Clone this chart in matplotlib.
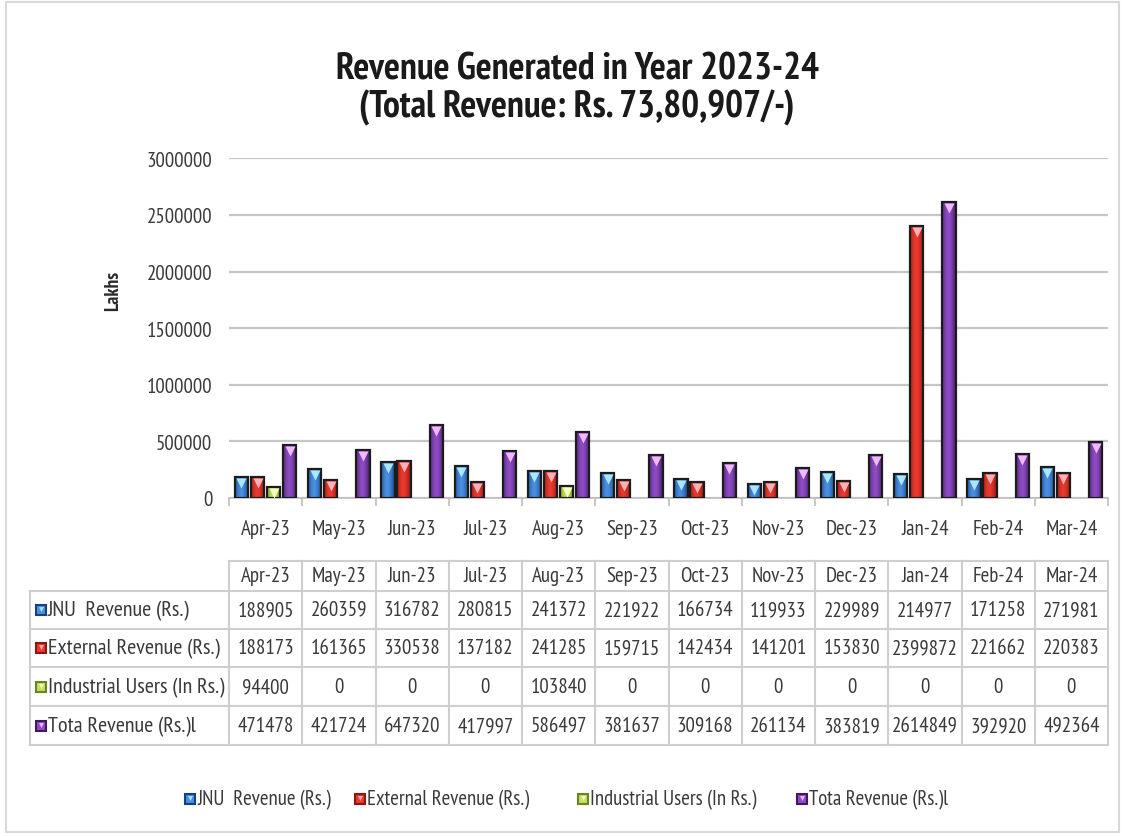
import numpy as np
import matplotlib
matplotlib.use("Agg")
import matplotlib.pyplot as plt
from matplotlib.patches import Rectangle
from matplotlib.colors import LinearSegmentedColormap
import matplotlib.transforms as mtransforms

plt.rcParams['font.family'] = ['PT Sans Narrow', 'DejaVu Sans']

# ---- data ----
months = ["Apr-23", "May-23", "Jun-23", "Jul-23", "Aug-23", "Sep-23",
          "Oct-23", "Nov-23", "Dec-23", "Jan-24", "Feb-24", "Mar-24"]
series_names = ["JNU  Revenue (Rs.)", "External Revenue (Rs.)",
                "Industrial Users (In Rs.)", "Tota Revenue (Rs.)l"]
jnu_revenue = [188905, 260359, 316782, 280815, 241372, 221922,
               166734, 119933, 229989, 214977, 171258, 271981]
external_revenue = [188173, 161365, 330538, 137182, 241285, 159715,
                    142434, 141201, 153830, 2399872, 221662, 220383]
industrial_users = [94400, 0, 0, 0, 103840, 0, 0, 0, 0, 0, 0, 0]
total_revenue = [471478, 421724, 647320, 417997, 586497, 381637,
                 309168, 261134, 383819, 2614849, 392920, 492364]
yticks = [0, 500000, 1000000, 1500000, 2000000, 2500000, 3000000]

series = [jnu_revenue, external_revenue, industrial_users, total_revenue]
# (dark edge, light centre, marker tint)
palette = [("#17407f", "#4a90e2", "#a8e8ff"),
           ("#8a1612", "#ea3a2e", "#ffb0b8"),
           ("#6a8424", "#c4e060", "#f4ffc0"),
           ("#42195f", "#8e4cc6", "#f0b8ff")]

W, H = 1124, 837
fig = plt.figure(figsize=(W / 100, H / 100), dpi=100)
fig.patch.set_facecolor("white")

x_left, x_right = 229, 1108
y_zero, y_top = 499, 159.3
ax = fig.add_axes([x_left / W, 1 - y_zero / H,
                   (x_right - x_left) / W, (y_zero - y_top) / H])
ax.set_xlim(-0.5, len(months) - 0.5)
ax.set_ylim(0, 3000000)

text_col = "#3a3a3a"
grid_col = "#c6c6c6"
fs = 15

ax.set_yticks(yticks)
ax.set_yticklabels([str(v) for v in yticks], fontsize=fs, color=text_col)
ax.yaxis.grid(True, color=grid_col, linewidth=1.6)
ax.set_axisbelow(True)
ax.tick_params(axis="y", length=0, pad=12)
for s in ["top", "right", "left"]:
    ax.spines[s].set_visible(False)
ax.spines["bottom"].set_color("#bdbdbd")
ax.spines["bottom"].set_linewidth(1.2)

xpos = np.arange(len(months))
ax.set_xticks(xpos)
ax.set_xticklabels(months, fontsize=fs, color=text_col)
ax.tick_params(axis="x", which="major", length=0, pad=15)
ax.set_xticks(np.arange(len(months) + 1) - 0.5, minor=True)
ax.tick_params(axis="x", which="minor", length=6, color="#bdbdbd", width=1.2)

ax.set_ylabel("Lakhs", fontsize=14, fontweight="bold", color="#2a2a2a", labelpad=0)
ax.yaxis.set_label_coords(-0.122, 0.612)

# ---- shaded bars ----
bar_w = 0.18
step = 0.22
offsets = (np.arange(4) - 1.5) * step
grad = np.linspace(0, 1, 64)
shade = np.abs(grad - 0.45) / 0.55
shade = (1 - shade ** 1.6).reshape(1, -1)

marker_tf = mtransforms.offset_copy(ax.transData, fig=fig, x=0, y=-6, units="dots")
for k, vals in enumerate(series):
    dark, light, tint = palette[k]
    cmap = LinearSegmentedColormap.from_list(f"c{k}", [dark, light])
    for i, v in enumerate(vals):
        if v <= 0:
            continue
        x0 = xpos[i] + offsets[k] - bar_w / 2
        rect = Rectangle((x0, 0), bar_w, v, facecolor="none",
                         edgecolor="#1c1c1c", linewidth=1.6, zorder=4)
        ax.add_patch(rect)
        im = ax.imshow(shade, cmap=cmap, vmin=0, vmax=1, aspect="auto",
                       extent=(x0, x0 + bar_w, 0, v), origin="lower",
                       interpolation="bilinear", zorder=3)
        im.set_clip_path(rect)
        ax.plot(xpos[i] + offsets[k], v, marker="v", markersize=7,
                color=tint, markeredgecolor="none", transform=marker_tf, zorder=5)
ax.set_xlim(-0.5, len(months) - 0.5)
ax.set_ylim(0, 3000000)

# ---- overlay in pixel coordinates for title, table, legend, border ----
ov = fig.add_axes([0, 0, 1, 1])
ov.set_xlim(0, W)
ov.set_ylim(H, 0)
ov.axis("off")
ov.set_zorder(10)
ov.patch.set_alpha(0)

ov.add_patch(Rectangle((6, 3), 1113, 830, facecolor="none",
                       edgecolor="#d9d9d9", linewidth=1.5))

ov.text(577, 70, "Revenue Generated in Year 2023-24", ha="center", va="center",
        fontsize=27, fontweight="bold", color="#1a1a1a")
ov.text(577, 108, "(Total Revenue: Rs. 73,80,907/-)", ha="center", va="center",
        fontsize=27, fontweight="bold", color="#1a1a1a")


def key_square(x, y, k, size=10):
    dark, light, tint = palette[k]
    ov.add_patch(Rectangle((x, y - size / 2), size, size, facecolor=light,
                           edgecolor=dark, linewidth=1.5))
    ov.plot(x + size / 2, y - 1, marker="v", markersize=3.5, color=tint,
            markeredgecolor="none")


# data table
tbl_col = "#cfcfcf"
col_w = (x_right - x_left) / len(months)
row_edges = [562, 592, 630, 668, 707, 746]
label_left = 30
for r, yy in enumerate(row_edges):
    xs = x_left if r == 0 else label_left
    ov.plot([xs, x_right], [yy, yy], color=tbl_col, linewidth=1.5)
ov.plot([label_left, label_left], [row_edges[1], row_edges[-1]], color=tbl_col, linewidth=1.5)
for c in range(len(months) + 1):
    xx = x_left + c * col_w
    ov.plot([xx, xx], [row_edges[0], row_edges[-1]], color=tbl_col, linewidth=1.5)

for c, m in enumerate(months):
    ov.text(x_left + (c + 0.5) * col_w, (row_edges[0] + row_edges[1]) / 2, m,
            ha="center", va="center", fontsize=fs, color=text_col)
for r, (name, vals) in enumerate(zip(series_names, series)):
    yc = (row_edges[r + 1] + row_edges[r + 2]) / 2
    key_square(36, yc, r)
    ov.text(48, yc, name, ha="left", va="center", fontsize=fs + 1, color=text_col)
    for c, v in enumerate(vals):
        ov.text(x_left + (c + 0.5) * col_w, yc, str(v), ha="center",
                va="center", fontsize=fs, color=text_col)

# legend
legend_x = [185, 355, 578, 797]
for k, (lx, name) in enumerate(zip(legend_x, series_names)):
    key_square(lx, 800, k)
    ov.text(lx + 12, 800, name, ha="left", va="center", fontsize=fs, color=text_col)

fig.savefig("out.png", dpi=100, facecolor="white")
